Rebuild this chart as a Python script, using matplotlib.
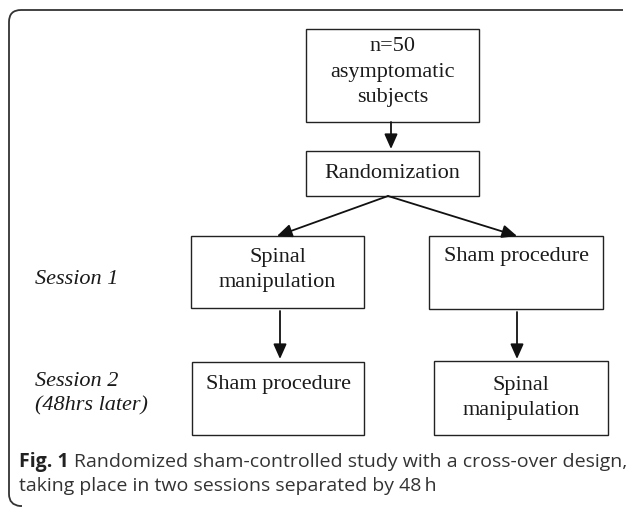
import matplotlib
matplotlib.use("Agg")
import matplotlib.pyplot as plt
from matplotlib.patches import Rectangle, FancyArrowPatch, PathPatch
from matplotlib.path import Path

# flowchart text
box_labels = ["n=50\nasymptomatic\nsubjects", "Randomization",
              "Spinal\nmanipulation", "Sham procedure",
              "Sham procedure", "Spinal\nmanipulation"]
session_labels = ["Session 1", "Session 2\n(48hrs later)"]
caption_bold = "Fig. 1"
caption_text = ["Randomized sham-controlled study with a cross-over design,",
                "taking place in two sessions separated by 48\u2009h"]

# layout (pixels, top-left origin): x0, y0, x1, y1
boxes = [(306, 29, 479, 122), (306, 151, 479, 196),
         (191, 236, 364, 308), (429, 236, 603, 309),
         (192, 362, 364, 435), (434, 361, 608, 435)]
# label centre y inside each box
text_y = [72, 173, 270, 256, 384, 398]

fig = plt.figure(figsize=(6.27, 5.08), dpi=100)
ax = fig.add_axes([0, 0, 1, 1])
ax.set_xlim(0, 627)
ax.set_ylim(508, 0)
ax.axis('off')

serif = "Liberation Serif"

# outer frame, open on the right
verts = [(623, 10), (21, 10), (9, 10), (9, 22), (9, 494), (9, 505), (20, 506), (22, 506)]
codes = [Path.MOVETO, Path.LINETO, Path.CURVE3, Path.CURVE3, Path.LINETO,
         Path.CURVE3, Path.CURVE3, Path.LINETO]
ax.add_patch(PathPatch(Path(verts, codes), fill=False, lw=1.3, color='#333333'))

for (x0, y0, x1, y1), lab, ty in zip(boxes, box_labels, text_y):
    ax.add_patch(Rectangle((x0, y0), x1 - x0, y1 - y0, fill=False, lw=1.0, ec='#222222'))
    ax.text((x0 + x1) / 2, ty, lab, ha='center', va='center', fontsize=16,
            family=serif, color='#1a1a1a', linespacing=1.45)

arrows = [((391, 122), (391, 149)),
          ((388, 196), (277, 236)),
          ((388, 196), (517, 236)),
          ((280, 311), (280, 359)),
          ((517, 312), (517, 359))]
for a, b in arrows:
    ax.add_patch(FancyArrowPatch(a, b, arrowstyle='-|>,head_length=9,head_width=4',
                                 lw=1.3, color='#111111', shrinkA=0, shrinkB=0))

ax.text(35, 280, session_labels[0], ha='left', va='center', fontsize=16,
        family=serif, style='italic', color='#1a1a1a')
ax.text(35, 394, session_labels[1], ha='left', va='center', fontsize=16,
        family=serif, style='italic', color='#1a1a1a', linespacing=1.35)

sans = "Open Sans"
t = ax.text(19, 462, caption_bold, ha='left', va='center', fontsize=14,
            family=sans, weight='bold', color='#222222')
fig.canvas.draw()
bb = t.get_window_extent()
x_after = ax.transData.inverted().transform((bb.x1, 0))[0]
ax.text(x_after + 5, 462, caption_text[0], ha='left', va='center', fontsize=14,
        family=sans, color='#333333')
ax.text(19, 486, caption_text[1], ha='left', va='center', fontsize=14,
        family=sans, color='#333333')

fig.savefig("out.png", dpi=100)
